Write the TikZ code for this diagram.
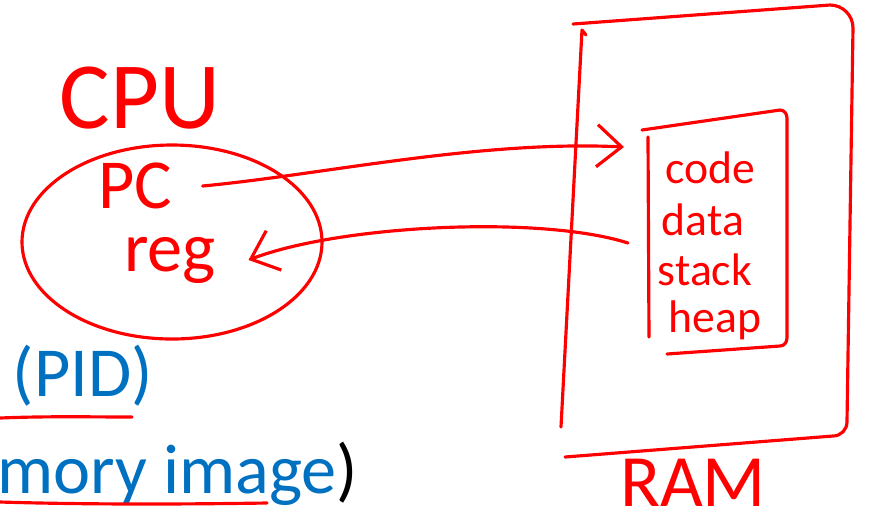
\documentclass[tikz,border=0pt]{standalone}
\usepackage{fontspec}
\setmainfont{Carlito}
\usetikzlibrary{arrows.meta}
\definecolor{slideblue}{RGB}{0,112,192}

\begin{document}
\begin{tikzpicture}[x=1cm, y=1cm,
    ink/.style = {red, line width=0.9pt, line cap=round, line join=round},
    hand/.style = {red, inner sep=0pt},
    slide/.style = {slideblue, inner sep=0pt, anchor=base west, font=\fontsize{20}{24}\selectfont},
    barb/.style = {-{Straight Barb[length=7pt, width=12pt]}}]
    \useasboundingbox (0,0) rectangle (8.71,-5.24);
    % cpu and its registers
    \node[hand, font=\fontsize{27}{30}\selectfont] (cpu) at (1.40,-0.98) {CPU};
    \draw[ink] (1.72,-2.42) ellipse (1.50 and 0.97);
    \node[hand, font=\fontsize{20}{24}\selectfont] (pc) at (1.35,-1.86) {PC};
    \node[hand, font=\fontsize{20}{24}\selectfont] (reg) at (1.70,-2.60) {reg};
    % ram
    \draw[ink] (5.73,-0.24) -- (8.30,-0.05) to[out=0, in=90] (8.53,-0.28) -- (8.47,-4.22) to[out=-90, in=0] (8.33,-4.36) -- (5.65,-4.57);
    \draw[ink] (5.86,-0.35) -- (5.82,-0.30) -- (5.61,-4.27);
    \node[hand, font=\fontsize{21}{24}\selectfont] (ram) at (6.93,-4.83) {RAM};
    % memory image
    \draw[ink] (6.42,-1.30) -- (7.80,-1.10) to[out=0, in=90] (7.87,-1.18) -- (7.87,-3.38) to[out=-90, in=0] (7.80,-3.46) -- (6.67,-3.54);
    \draw[ink] (6.48,-1.37) -- (6.49,-3.37);
    \coordinate (memin) at (6.24,-1.47);
    \coordinate (memout) at (6.28,-2.43);
    \node[hand, font=\fontsize{13}{15}\selectfont] (code) at (7.10,-1.68) {code};
    \node[hand, font=\fontsize{13}{15}\selectfont] (data) at (7.03,-2.20) {data};
    \node[hand, font=\fontsize{13}{15}\selectfont] (stack) at (7.05,-2.70) {stack};
    \node[hand, font=\fontsize{13}{15}\selectfont] (heap) at (7.15,-3.20) {heap};
    % arrows
    \draw[ink, barb] ([xshift=0.3cm]pc.east) .. controls (3.2,-1.75) and (4.8,-1.40) .. (memin);
    \draw[ink, barb] (memout) .. controls (5.4,-2.15) and (3.4,-2.25) .. ([xshift=0.32cm]reg.east);
    % slide text
    \node[slide] (pid) at (0.12,-3.96) {(PID)};
    \node[slide] (image) at (-0.03,-4.93) {mory image\textcolor{black}{)}};
    \draw[ink] (0,-4.18) .. controls (0.5,-4.16) and (0.9,-4.17) .. (1.32,-4.17);
    \draw[ink] (0,-5.02) .. controls (1.0,-5.05) and (2.0,-5.04) .. (2.67,-5.03);
\end{tikzpicture}
\end{document}
